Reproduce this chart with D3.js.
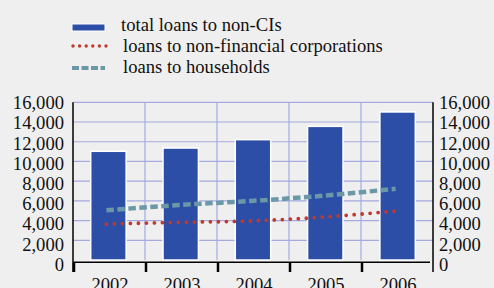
<!DOCTYPE html>
<html><head><meta charset="utf-8">
<script src="https://cdn.jsdelivr.net/npm/d3@7"></script>
<style>html,body{margin:0;padding:0;background:#efefef;}svg{display:block;}</style>
</head><body>
<svg id="c" width="494" height="288"></svg>
<script>
const years = ["2002","2003","2004","2005","2006"];
const totalLoans = [11030, 11360, 12210, 13560, 15020];
const corpLoans = [3650, 3820, 3960, 4360, 4970];
const householdLoans = [5040, 5580, 5990, 6520, 7230];
const yTicks = [0,2000,4000,6000,8000,10000,12000,14000,16000];
const legendLabels = ["total loans to non-CIs","loans to non-financial corporations","loans to households"];

const svg = d3.select("#c");
const font = "'Liberation Serif','Times New Roman',serif";
const L = 73, R = 433, T = 102.3, B = 260;
const x = d3.scaleBand().domain(years).range([L, R]).paddingInner(0.51).paddingOuter(0.245);
const xb = d3.scaleBand().domain(years).range([L, R]);
const y = d3.scaleLinear().domain([0,16000]).range([B, T]);
const yLab = d3.scaleLinear().domain([0,16000]).range([264.5, 102.8]);

// gridlines
const grid = svg.append("g").attr("stroke","#a4aae0").attr("stroke-width",1.2);
grid.selectAll("line.h").data(yTicks.slice(1)).join("line")
  .attr("x1",L).attr("x2",R).attr("y1",d=>y(d)).attr("y2",d=>y(d));
grid.selectAll("line.v").data(years.slice(1)).join("line")
  .attr("x1",d=>xb(d)).attr("x2",d=>xb(d)).attr("y1",T).attr("y2",B);

// bars
svg.append("g").selectAll("rect").data(totalLoans).join("rect")
  .attr("x",(d,i)=>x(years[i])).attr("width",x.bandwidth())
  .attr("y",d=>y(d)).attr("height",d=>B-y(d))
  .attr("fill","#2c4ea6").attr("stroke","#ffffff").attr("stroke-width",1.5);

// lines
const lx = (d,i)=>x(years[i])+x.bandwidth()/2 - 2;
const line = d3.line().x((d,i)=>lx(d,i)).y(d=>y(d)).curve(d3.curveMonotoneX);
svg.append("path").datum(householdLoans).attr("d",line)
  .attr("fill","none").attr("stroke","#6b98a6").attr("stroke-width",4.5).attr("stroke-dasharray","7.5,3.5");
svg.append("path").datum(corpLoans).attr("d",line)
  .attr("fill","none").attr("stroke","#c0392b").attr("stroke-width",3.8)
  .attr("stroke-linecap","round").attr("stroke-dasharray","0,8");

// axes lines
const ax = svg.append("g").attr("stroke","#000");
ax.append("line").attr("x1",L).attr("x2",L).attr("y1",T).attr("y2",272).attr("stroke-width",1.5);
ax.append("line").attr("x1",R).attr("x2",R).attr("y1",T).attr("y2",272).attr("stroke-width",1.5);
ax.append("line").attr("x1",L).attr("x2",R-3).attr("y1",262.3).attr("y2",262.3).attr("stroke-width",1.5);
ax.selectAll("line.t").data(years).join("line")
  .attr("x1",d=>xb(d)+1).attr("x2",d=>xb(d)+1).attr("y1",262.3).attr("y2",272).attr("stroke-width",2.5);

// y labels
const fs = 18.6;
svg.append("g").selectAll("text").data(yTicks).join("text")
  .attr("x",64).attr("y",d=>yLab(d)).attr("dy","0.34em").attr("text-anchor","end")
  .attr("font-family",font).attr("font-size",fs).attr("fill","#111").text(d=>d3.format(",")(d));
svg.append("g").selectAll("text").data(yTicks).join("text")
  .attr("x",439).attr("y",d=>yLab(d)).attr("dy","0.34em").attr("text-anchor","start")
  .attr("font-family",font).attr("font-size",fs).attr("fill","#111").text(d=>d3.format(",")(d));
// x labels
svg.append("g").selectAll("text").data(years).join("text")
  .attr("x",d=>xb(d)+xb.bandwidth()/2+1).attr("y",290.5).attr("text-anchor","middle")
  .attr("font-family",font).attr("font-size",fs).attr("fill","#111").text(d=>d);

// legend
const lg = svg.append("g");
lg.append("rect").attr("x",72).attr("y",24).attr("width",33).attr("height",7)
  .attr("fill","#2c4ea6").attr("stroke","#fff").attr("stroke-width",1);
lg.append("line").attr("x1",73).attr("x2",106).attr("y1",46).attr("y2",46)
  .attr("stroke","#c0392b").attr("stroke-width",3.4).attr("stroke-linecap","round").attr("stroke-dasharray","0,6.6");
lg.append("line").attr("x1",72).attr("x2",105).attr("y1",68).attr("y2",68)
  .attr("stroke","#6b98a6").attr("stroke-width",4).attr("stroke-dasharray","7,2.5");
lg.selectAll("text").data(legendLabels).join("text")
  .attr("x",(d,i)=>i===0?121:123).attr("y",(d,i)=>31+i*21)
  .attr("font-family",font).attr("font-size",fs).attr("fill","#111").text(d=>d);
</script>
</body></html>
